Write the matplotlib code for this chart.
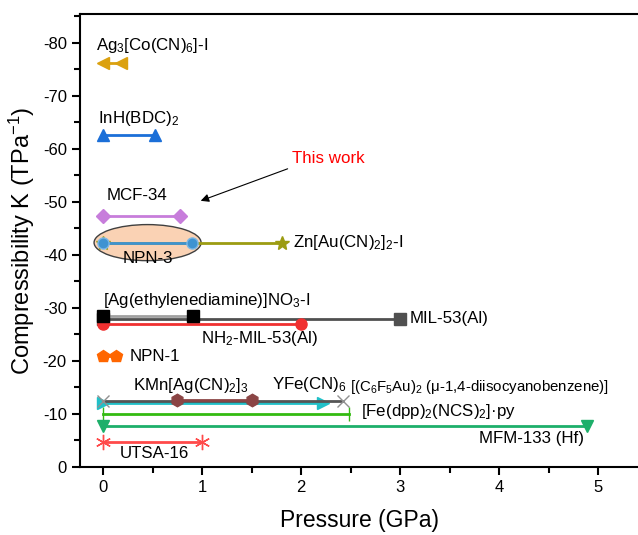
import matplotlib.pyplot as plt
from matplotlib.patches import Ellipse

plt.rcParams['font.family'] = ['Liberation Sans', 'DejaVu Sans']
plt.rcParams['mathtext.fontset'] = 'custom'
plt.rcParams['mathtext.rm'] = 'Liberation Sans'
plt.rcParams['mathtext.it'] = 'Liberation Sans'
plt.rcParams['axes.unicode_minus'] = False

# compressibility data: (pressure range endpoints, K value)
ag3_x, ag3_y = [0, 0.18], -76.2
inh_x, inh_y = [0, 0.53], -62.6
mcf_x, mcf_y = [0, 0.78], -47.4
npn3_x, npn3_y = [0, 0.9], -42.3
zn_x, zn_y = [0, 1.81], -42.3
agen_x, agen_y = [0, 0.91], -28.5
mil_x, mil_y = [0, 3.0], -27.9
nh2_x, nh2_y = [0, 2.0], -27.0
npn1_x, npn1_y = [0, 0.13], -20.9
yfe_x, yfe_y = [0, 2.22], -12.1
c6f5_x, c6f5_y = [0, 2.42], -12.5
kmn_x, kmn_y = [0.75, 1.5], -12.7
fedpp_x, fedpp_y = [0, 2.48], -10.0
mfm_x, mfm_y = [0, 4.89], -7.7
utsa_x, utsa_y = [0, 1.0], -4.7

fig = plt.figure(figsize=(6.38, 5.35), dpi=100)
ax = fig.add_axes([80 / 638, 68 / 535, 1 - 80 / 638, (467 - 14) / 535])

# ellipse highlighting this work
ax.add_patch(Ellipse((0.45, -42.3), 1.08, 6.8, facecolor='#FAD2B4',
                     edgecolor='#404040', lw=1, zorder=1))

def seg(x, y, color, marker, ms, lw=2, mec=None, mew=1, z=2):
    ax.plot(x, [y, y], color=color, lw=lw, marker=marker, ms=ms,
            mec=mec or color, mfc=color, mew=mew, zorder=z)

seg(ag3_x, ag3_y, '#DBA10F', '<', 9)
seg(inh_x, inh_y, '#1B6FD8', '^', 9)
seg(mcf_x, mcf_y, '#C77DDB', 'D', 7)
seg(zn_x, zn_y, '#9C9C12', '*', 10, z=1.5)
ax.plot(npn3_x, [npn3_y] * 2, color='#3F93D1', lw=2, marker='o', ms=8,
        mfc='#3F93D1', mec='#7DB8E5', zorder=3)
seg(mil_x, mil_y, '#505050', 's', 8, z=2)
ax.plot(agen_x, [agen_y] * 2, color='#A0A0A0', lw=2, marker='s', ms=8,
        mfc='black', mec='black', zorder=3)
seg(nh2_x, nh2_y, '#F03030', 'o', 8, z=2.5)
seg(npn1_x, npn1_y, '#FF6600', 'p', 9)
seg(fedpp_x, fedpp_y, '#33BB11', '|', 10)
seg(mfm_x, mfm_y, '#1DAF6A', 'v', 9)
seg(yfe_x, yfe_y, '#20C0C8', '>', 9, z=2)
seg(c6f5_x, c6f5_y, '#555555', 'x', 9, mec='#909090', z=2.2)
seg(kmn_x, kmn_y, '#8B4545', 'h', 9, z=2.4)
seg(utsa_x, utsa_y, '#FF4A4A', (6, 2, 0), 11, mew=1)

fs = 12.2
ax.text(-0.07, -79.4, r'Ag$_3$[Co(CN)$_6$]-I', fontsize=fs, va='center')
ax.text(-0.05, -65.7, r'InH(BDC)$_2$', fontsize=fs, va='center')
ax.text(0.04, -51.1, 'MCF-34', fontsize=fs, va='center')
ax.text(0.45, -39.4, 'NPN-3', fontsize=fs, va='center', ha='center', zorder=4)
ax.text(1.92, -42.3, r'Zn[Au(CN)$_2$]$_2$-I', fontsize=fs, va='center')
ax.text(1.91, -58.1, 'This work', fontsize=fs, va='center', color='red')
ax.annotate('', xy=(0.96, -50.0), xytext=(1.89, -56.4),
            arrowprops=dict(arrowstyle='-|>', color='black', lw=0.8,
                            mutation_scale=12))
ax.text(0.0, -31.3, r'[Ag(ethylenediamine)]NO$_3$-I', fontsize=fs, va='center')
ax.text(3.1, -28.0, 'MIL-53(Al)', fontsize=fs, va='center')
ax.text(0.99, -24.2, r'NH$_2$-MIL-53(Al)', fontsize=fs, va='center')
ax.text(0.27, -20.9, 'NPN-1', fontsize=fs, va='center')
ax.text(0.30, -15.3, r'KMn[Ag(CN)$_2$]$_3$', fontsize=fs, va='center')
ax.text(1.71, -15.6, r'YFe(CN)$_6$', fontsize=fs, va='center')
ax.text(2.49, -15.1, r'[(C$_6$F$_5$Au)$_2$ (μ-1,4-diisocyanobenzene)]',
        fontsize=10.8, va='center')
ax.text(2.60, -10.4, r'[Fe(dpp)$_2$(NCS)$_2$]·py', fontsize=fs, va='center')
ax.text(4.85, -5.3, 'MFM-133 (Hf)', fontsize=fs, va='center', ha='right')
ax.text(0.17, -2.5, 'UTSA-16', fontsize=fs, va='center')

ax.set_xlim(-0.232, 5.40)
ax.set_ylim(0, -85.4)
ax.set_xticks([0, 1, 2, 3, 4, 5])
ax.set_xticks([0.5, 1.5, 2.5, 3.5, 4.5], minor=True)
ax.set_yticks([0, -10, -20, -30, -40, -50, -60, -70, -80])
ax.set_yticks([-5, -15, -25, -35, -45, -55, -65, -75, -85], minor=True)
ax.tick_params(which='major', direction='out', length=6, width=1.5, labelsize=12)
ax.tick_params(which='minor', direction='out', length=4, width=1.5)
for s in ['left', 'bottom', 'top']:
    ax.spines[s].set_linewidth(1.5)
ax.spines['right'].set_visible(False)

ax.set_xlabel('Pressure (GPa)', fontsize=16.5, labelpad=10)
ax.set_ylabel(r'Compressibility K (TPa$^{-1}$)', fontsize=17, labelpad=4)

fig.savefig('out.png', dpi=100)
